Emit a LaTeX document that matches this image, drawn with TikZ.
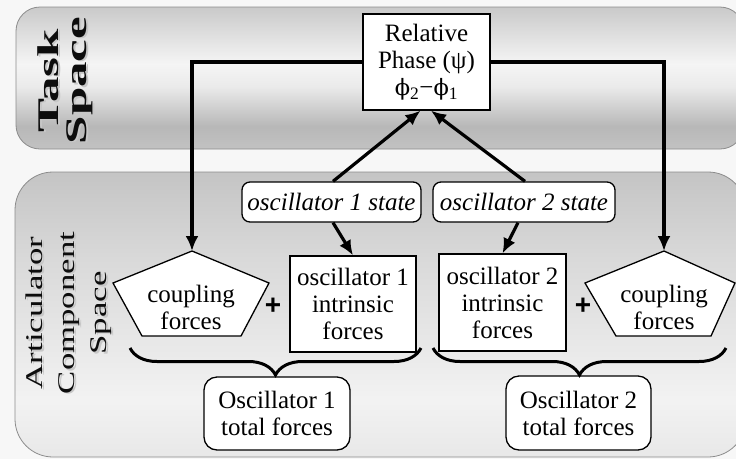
\documentclass[tikz,border=0pt]{standalone}
\usepackage{fontspec}
\setmainfont{Liberation Serif}
\newfontfamily\phifont[Scale=0.9]{DejaVu Serif}
\newfontfamily\plusfont{Liberation Sans}
\usetikzlibrary{arrows.meta,decorations.pathreplacing,calc}
\pgfdeclareverticalshading{taskshade}{100bp}{color(0bp)=(black!24); color(25bp)=(black!24); color(33bp)=(black!28); color(47bp)=(black!8); color(55bp)=(black!4); color(68bp)=(black!15); color(75bp)=(black!21); color(100bp)=(black!21)}
\pgfdeclareverticalshading{artshade}{100bp}{color(0bp)=(black!9); color(25bp)=(black!9); color(35bp)=(black!5); color(60bp)=(black!15); color(75bp)=(black!23); color(100bp)=(black!23)}
\begin{document}
\begin{tikzpicture}[x=1pt,y=-1pt,
  txt/.style={align=center, inner sep=0pt, font=\fontsize{25}{27}\selectfont},
  box/.style={txt, draw=black, line width=1.3pt, fill=white},
  rbox/.style={box, rounded corners=8pt},
  tbox/.style={box, rounded corners=13pt},
  conn/.style={line width=3.2pt, -{Latex[length=15pt,width=13pt]}},
  pent/.style={draw=black, line width=1.3pt, fill=white, line join=miter},
  brc/.style={line width=3pt, decorate, decoration={brace, mirror, amplitude=27pt}},
  panel/.style={draw=black!45, line width=0.8pt},
  side/.style={rotate=90, inner sep=0pt, text=black!95},
  sideshadow/.style={rotate=90, inner sep=0pt, text=black!22}
]
\useasboundingbox (0,0) rectangle (736,459);
\fill[black!3] (0,0) rectangle (736,459);

% panels
\draw[panel, rounded corners=24pt, shading=taskshade]
  (16,7) rectangle (744,149);
\draw[panel, rounded corners=38pt, shading=artshade]
  (15,172) rectangle (746,457);

% side labels
\node[sideshadow, font=\fontsize{30}{27}\selectfont\bfseries] at (67.8,82)
  {\scalebox{1.7}[1]{\begin{tabular}{@{}c@{}}Task\\Space\end{tabular}}};
\node[side, font=\fontsize{30}{27}\selectfont\bfseries] (tasklbl) at (66,80.5)
  {\scalebox{1.7}[1]{\begin{tabular}{@{}c@{}}Task\\Space\end{tabular}}};
\node[sideshadow, font=\fontsize{24}{32}\selectfont] at (69.8,314.5)
  {\scalebox{1.45}[1]{\begin{tabular}{@{}c@{}}Articulator\\Component\\Space\end{tabular}}};
\node[side, font=\fontsize{24}{32}\selectfont] (artlbl) at (68,313)
  {\scalebox{1.45}[1]{\begin{tabular}{@{}c@{}}Articulator\\Component\\Space\end{tabular}}};

% boxes
\node[box, minimum width=127pt, minimum height=96pt] (rel) at (426.5,62)
  {Relative\\Phase (ψ)\\{\phifont ϕ}\textsubscript{2}−{\phifont ϕ}\textsubscript{1}};
\node[rbox, minimum width=179pt, minimum height=40pt, font=\fontsize{25}{27}\selectfont\itshape] (s1) at (331.5,202) {oscillator 1 state};
\node[rbox, minimum width=182pt, minimum height=40pt, font=\fontsize{25}{27}\selectfont\itshape] (s2) at (524,202) {oscillator 2 state};
\node[box, minimum width=126pt, minimum height=96pt] (i1) at (353,304) {oscillator 1\\intrinsic\\forces};
\node[box, minimum width=127pt, minimum height=97pt] (i2) at (502.5,302.5) {oscillator 2\\intrinsic\\forces};
\node[tbox, minimum width=146pt, minimum height=73pt] (t1) at (277,413.5) {Oscillator 1\\total forces};
\node[tbox, minimum width=145pt, minimum height=74pt] (t2) at (578.5,413) {Oscillator 2\\total forces};

% pentagons
\coordinate (p1top) at (192,251);
\coordinate (p2top) at (664,251);
\draw[pent] (p1top) -- (269,283) -- (241,336) -- (142,336) -- (113,283) -- cycle;
\draw[pent] (p2top) -- (735,283) -- (711,336) -- (616,336) -- (585,283) -- cycle;
\node[txt] (c1) at (191,307) {coupling\\forces};
\node[txt] (c2) at (664,307) {coupling\\forces};

% plus signs
\node[inner sep=0pt, font=\fontsize{28}{28}\plusfont\bfseries] (plus1) at (273,306) {+};
\node[inner sep=0pt, font=\fontsize{28}{28}\plusfont\bfseries] (plus2) at (583,306) {+};

% connectors
\draw[conn] (rel.west) -| (p1top);
\draw[conn] (rel.east) -| (p2top);
\draw[conn] ($(s1.north)+(1.5,0)$) -- ($(rel.south)+(-6,0)$);
\draw[conn] ($(s2.north)+(1,0)$) -- ($(rel.south)+(4.5,0)$);
\draw[conn] ($(s1.south)+(1.5,0)$) -- (i1.north);
\draw[conn] ($(s2.south)+(-6,0)$) -- (i2.north);

% braces
\coordinate (b1l) at (130,348);
\coordinate (b1r) at (421,348);
\coordinate (b2l) at (433,348);
\coordinate (b2r) at (726,348);
\draw[brc] (b1l) -- (b1r);
\draw[brc] (b2l) -- (b2r);
\end{tikzpicture}
\end{document}
